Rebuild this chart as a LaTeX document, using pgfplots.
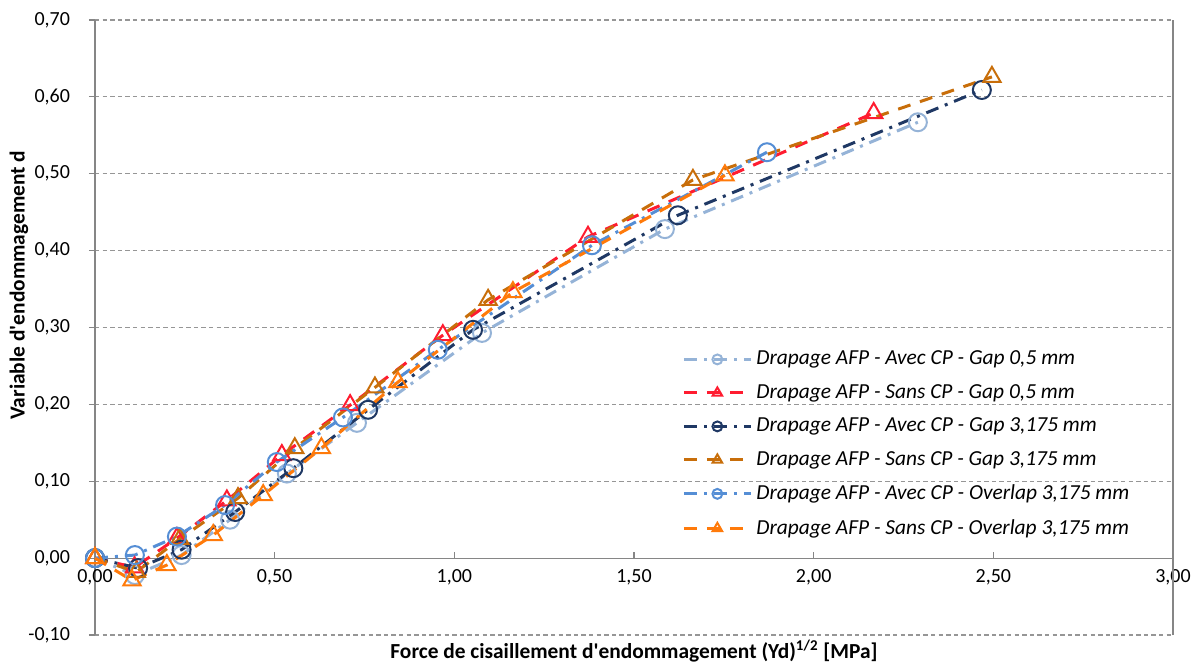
\documentclass[border=0pt]{standalone}
\usepackage{fontspec}
\setmainfont{Carlito}
\usepackage{pgfplots}
\pgfplotsset{compat=1.18}
\definecolor{cA}{RGB}{149,179,215}
\definecolor{cB}{RGB}{255,28,48}
\definecolor{cC}{RGB}{31,56,100}
\definecolor{cD}{RGB}{200,110,10}
\definecolor{cE}{RGB}{85,142,213}
\definecolor{cF}{RGB}{255,122,10}
\definecolor{axgray}{RGB}{134,134,134}
\definecolor{gridgray}{RGB}{150,150,150}
\tikzset{
  dashdotA/.style={dash pattern=on 6.5pt off 3.5pt on 1.5pt off 3.5pt},
  longdash/.style={dash pattern=on 6.5pt off 5pt},
}
\begin{document}
\begin{tikzpicture}
\useasboundingbox (-47.5pt,-15.5pt) rectangle (554.5pt,317.5pt);
\begin{axis}[
  at={(0,0)}, anchor=south west,
  scale only axis, width=539pt, height=307.5pt,
  xmin=0, xmax=3, ymin=-0.1, ymax=0.7,
  enlargelimits=false, clip=false,
  axis x line=middle, axis y line=left,
  axis line style={-, draw=axgray, line width=0.6pt},
  hide obscured x ticks=false, hide obscured y ticks=false,
  xtick={0,0.5,1,1.5,2,2.5,3},
  ytick={-0.1,0,0.1,0.2,0.3,0.4,0.5,0.6,0.7},
  minor tick num=0,
  x tick style={draw=axgray, line width=0.6pt},
  y tick style={draw=axgray, line width=0.6pt},
  xtick align=inside, ytick align=outside,
  major tick length=3pt,
  ymajorgrids,
  major grid style={draw=gridgray, line width=0.6pt, dash pattern=on 2.2pt off 1.6pt},
  /pgf/number format/.cd, fixed, fixed zerofill, precision=2, use comma, assume math mode=true,
  /pgfplots/.cd,
  tick label style={font=\fontsize{10}{12}\selectfont, text=black},
  xticklabel style={anchor=north, yshift=-2pt},
  yticklabel style={anchor=east, xshift=-6pt},
  every axis x label/.style={at={(rel axis cs:0.5,0)}, anchor=north, yshift=0.8pt, font=\fontsize{10.7}{12.5}\selectfont\bfseries},
  every axis y label/.style={at={(rel axis cs:0,0.569)}, anchor=center, rotate=90, yshift=38pt, font=\fontsize{10.7}{12.5}\selectfont\bfseries},
  xlabel={Force de cisaillement d\textquotesingle endommagement (Yd)\textsuperscript{1/2} [MPa]},
  ylabel={Variable d\textquotesingle endommagement d},
  legend cell align=left,
  legend style={draw=none, fill=none, at={(rel axis cs:0.5445,0.469)}, anchor=north west,
    font=\fontsize{10.7}{12.5}\selectfont\itshape, row sep=4.3pt, inner sep=0pt},
  legend image code/.code={
    \draw[mark repeat=2, mark phase=2, #1, /tikz/every mark/.append style={scale=0.55}]
      plot coordinates {(0pt,0pt) (16.75pt,0pt) (33.5pt,0pt)};},
  every axis plot/.append style={line width=1.5pt},
]
\draw[draw=axgray, line width=0.6pt] (rel axis cs:1,0) -- (rel axis cs:1,1);

\addplot[color=cA, dashdotA, mark=o, mark size=4.5pt, mark options={solid, line width=1pt}]
coordinates {(0,0) (0.111,-0.022) (0.241,0.004) (0.376,0.050) (0.534,0.110) (0.729,0.176) (1.077,0.293) (1.586,0.428) (2.290,0.567)};
\addlegendentry{Drapage AFP - Avec CP - Gap 0,5 mm}

\addplot[color=cB, longdash, mark=triangle, mark size=5pt, mark options={solid, line width=1pt}]
coordinates {(0,0) (0.110,-0.012) (0.228,0.026) (0.367,0.075) (0.520,0.134) (0.710,0.199) (0.968,0.290) (1.372,0.418) (2.167,0.579)};
\addlegendentry{Drapage AFP - Sans CP - Gap 0,5 mm}

\addplot[color=cC, dashdotA, mark=o, mark size=4.5pt, mark options={solid, line width=1pt}]
coordinates {(0,0) (0.120,-0.013) (0.241,0.011) (0.390,0.060) (0.552,0.117) (0.760,0.193) (1.052,0.297) (1.622,0.446) (2.468,0.609)};
\addlegendentry{Drapage AFP - Avec CP - Gap 3,175 mm}

\addplot[color=cD, longdash, mark=triangle, mark size=5pt, mark options={solid, line width=1pt}]
coordinates {(0,0) (0.115,-0.018) (0.236,0.025) (0.398,0.078) (0.556,0.143) (0.779,0.222) (1.094,0.336) (1.664,0.492) (2.496,0.626)};
\addlegendentry{Drapage AFP - Sans CP - Gap 3,175 mm}

\addplot[color=cE, dashdotA, mark=o, mark size=4.5pt, mark options={solid, line width=1pt}]
coordinates {(0,0) (0.111,0.004) (0.228,0.028) (0.362,0.069) (0.506,0.125) (0.690,0.183) (0.954,0.271) (1.383,0.407) (1.870,0.528)};
\addlegendentry{Drapage AFP - Avec CP - Overlap 3,175 mm}

\addplot[color=cF, longdash, mark=triangle, mark size=5pt, mark options={solid, line width=1pt}]
coordinates {(0,0) (0.103,-0.029) (0.200,-0.009) (0.329,0.030) (0.468,0.082) (0.630,0.143) (0.843,0.229) (1.163,0.346) (1.753,0.498)};
\addlegendentry{Drapage AFP - Sans CP - Overlap 3,175 mm}
\end{axis}
\end{tikzpicture}
\end{document}
